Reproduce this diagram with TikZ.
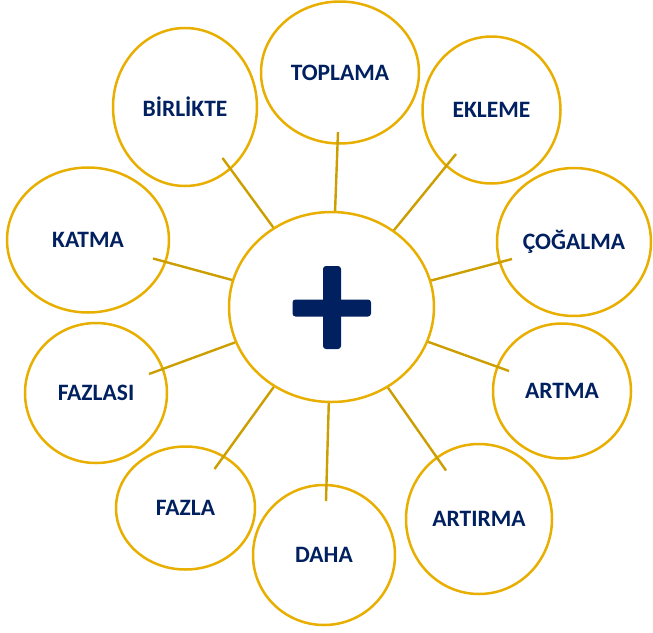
\documentclass[tikz,border=0pt]{standalone}
\usepackage{fontspec}
\setmainfont{Carlito}
\usetikzlibrary{shapes.geometric}
\definecolor{ringgold}{RGB}{232,175,0}
\definecolor{linegold}{RGB}{204,158,0}
\definecolor{navy}{RGB}{0,32,96}
\tikzset{
  bubble/.style={ellipse, draw=ringgold, line width=2.5pt, inner sep=0pt, fill=white,
    text=navy, font=\fontsize{23.5}{27}\selectfont\bfseries},
  spoke/.style={draw=linegold, line width=2.4pt},
  plusbar/.style={fill=navy, rounded corners=3pt}
}
\begin{document}
\begin{tikzpicture}[x=1pt,y=-1pt]
\useasboundingbox (0,0) rectangle (653,632);
% outer bubbles
\node[bubble, minimum width=158, minimum height=142] (toplama) at (340,72.5) {TOPLAMA};
\node[bubble, minimum width=144, minimum height=158] (birlikte) at (185,107) {BİRLİKTE};
\node[bubble, minimum width=138, minimum height=147] (ekleme) at (491.5,110) {EKLEME};
\node[bubble, minimum width=154, minimum height=148] (cogalma) at (574,242) {ÇOĞALMA};
\node[bubble, minimum width=162, minimum height=145] (katma) at (88,240) {KATMA};
\node[bubble, minimum width=142, minimum height=140] (fazlasi) at (96,393) {FAZLASI};
\node[bubble, minimum width=138, minimum height=135] (artma) at (562,391) {ARTMA};
\node[bubble, minimum width=139, minimum height=123] (fazla) at (185.5,508) {FAZLA};
\node[bubble, minimum width=142, minimum height=140] (daha) at (324,555) {DAHA};
\node[bubble, minimum width=146, minimum height=150] (artirma) at (479,519) {ARTIRMA};
% centre
\node[bubble, minimum width=205, minimum height=190] (c) at (331.5,307) {};
% spoke ends
\coordinate (eT) at (338,132);
\coordinate (eB) at (222.5,158);
\coordinate (eE) at (456,154);
\coordinate (eC) at (512,259);
\coordinate (eK) at (153,258.5);
\coordinate (eF1) at (149,374);
\coordinate (eA) at (509,371);
\coordinate (eF2) at (214.5,469);
\coordinate (eD) at (326,501);
\coordinate (eR) at (446,470.5);
\foreach \e in {eT,eB,eE,eC,eK,eF1,eA,eF2,eD,eR}
  \draw[spoke] (\e) -- (c);
% plus sign
\fill[plusbar] (292.5,299.5) rectangle (371,316.5);
\fill[plusbar] (323,266) rectangle (341,349);
\end{tikzpicture}
\end{document}
